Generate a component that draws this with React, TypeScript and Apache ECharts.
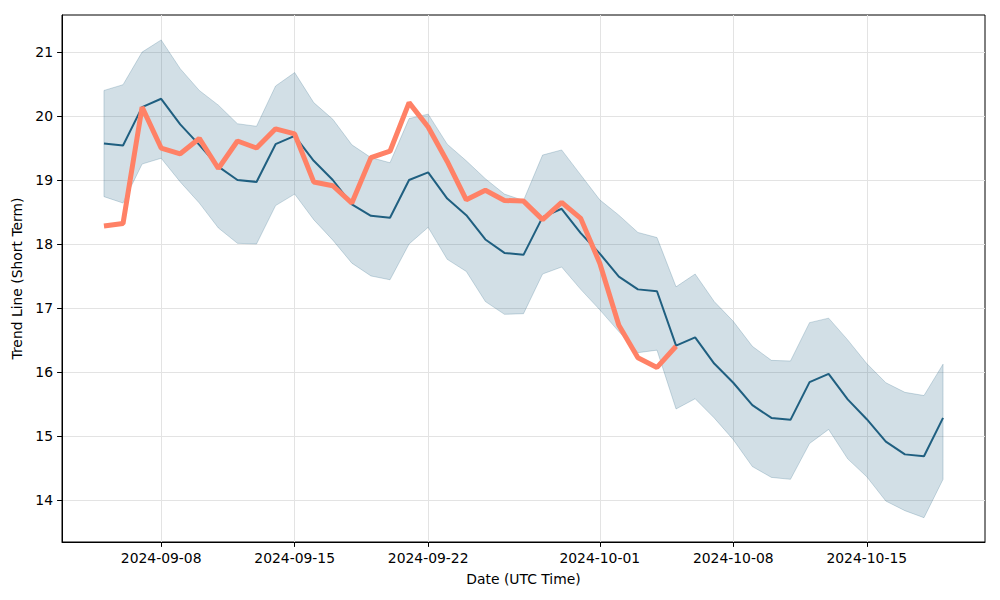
import React, { useEffect, useRef } from "react";
import * as echarts from "echarts";

const startDate = "2024-09-05";
const trend = [19.57, 19.54, 20.14, 20.27, 19.87, 19.55, 19.21, 19.0, 18.97, 19.56, 19.69, 19.3, 19.0, 18.62, 18.44, 18.41, 19.0, 19.12, 18.71, 18.45, 18.07, 17.86, 17.83, 18.42, 18.55, 18.17, 17.85, 17.49, 17.29, 17.26, 16.41, 16.54, 16.13, 15.83, 15.48, 15.28, 15.25, 15.84, 15.97, 15.57, 15.26, 14.91, 14.71, 14.68, 15.28];
const upper = [20.4, 20.49, 21.0, 21.19, 20.74, 20.4, 20.17, 19.88, 19.84, 20.47, 20.68, 20.21, 19.95, 19.55, 19.35, 19.27, 19.96, 20.03, 19.56, 19.3, 19.02, 18.78, 18.68, 19.39, 19.47, 19.08, 18.69, 18.45, 18.18, 18.1, 17.33, 17.53, 17.1, 16.79, 16.4, 16.18, 16.17, 16.77, 16.84, 16.5, 16.13, 15.83, 15.68, 15.63, 16.12];
const lower = [18.74, 18.64, 19.25, 19.34, 18.97, 18.64, 18.25, 18.01, 18.0, 18.6, 18.78, 18.38, 18.06, 17.7, 17.5, 17.44, 18.0, 18.26, 17.76, 17.57, 17.1, 16.9, 16.91, 17.53, 17.64, 17.29, 16.97, 16.63, 16.3, 16.34, 15.42, 15.58, 15.28, 14.94, 14.52, 14.35, 14.32, 14.88, 15.1, 14.64, 14.36, 13.98, 13.83, 13.72, 14.32];
const price = [18.28, 18.32, 20.14, 19.5, 19.41, 19.65, 19.18, 19.61, 19.5, 19.8, 19.72, 18.97, 18.91, 18.64, 19.35, 19.45, 20.21, 19.83, 19.29, 18.69, 18.84, 18.68, 18.67, 18.38, 18.65, 18.4, 17.7, 16.73, 16.22, 16.07, 16.4];
const xTickDates = ["2024-09-08", "2024-09-15", "2024-09-22", "2024-10-01", "2024-10-08", "2024-10-15"];
const yTicks = [14, 15, 16, 17, 18, 19, 20, 21];

const DAY = 86400000;
const toTs = (s: string) => {
  const [y, m, d] = s.split("-").map(Number);
  return Date.UTC(y, m - 1, d);
};
const t0 = toTs(startDate);
const dates = trend.map((_, i) => t0 + i * DAY);
const pad = (n: number) => (n < 10 ? "0" + n : "" + n);
const fmt = (v: number) => {
  const d = new Date(v);
  return `${d.getUTCFullYear()}-${pad(d.getUTCMonth() + 1)}-${pad(d.getUTCDate())}`;
};

export default function App() {
  const ref = useRef<HTMLDivElement>(null);
  useEffect(() => {
    if (!ref.current) return;
    const chart = echarts.init(ref.current, undefined, { renderer: "svg" });
    const span = dates[dates.length - 1] - dates[0];
    const xMin = dates[0] - span * 0.05;
    const xMax = dates[dates.length - 1] + span * 0.05;
    const font = "DejaVu Sans";
    const gridColor = "#e3e3e3";
    const bandColor = "rgba(31,95,128,0.2)";
    const edgeColor = "rgba(31,95,128,0.22)";
    const xTicks = xTickDates.map(toTs);
    chart.setOption({
      animation: false,
      backgroundColor: "#fff",
      grid: {
        left: 62,
        right: 15,
        top: 15,
        bottom: 58,
        show: true,
        borderColor: "#000",
        borderWidth: 1,
        containLabel: false,
      },
      xAxis: {
        type: "value",
        min: xMin,
        max: xMax,
        scale: true,
        name: "Date (UTC Time)",
        nameLocation: "middle",
        nameGap: 30,
        nameTextStyle: { fontFamily: font, fontSize: 13.9, color: "#000" },
        axisLine: { show: true, lineStyle: { color: "#000", width: 1 } },
        axisTick: {
          show: true,
          length: 4.9,
          lineStyle: { color: "#000", width: 1 },
          customValues: xTicks,
        },
        axisLabel: {
          customValues: xTicks,
          formatter: (v: number) => fmt(v),
          fontFamily: font,
          fontSize: 13.9,
          color: "#000",
          margin: 9,
          hideOverlap: false,
        },
        splitLine: { show: true, lineStyle: { color: gridColor, width: 1 } },
      },
      yAxis: {
        type: "value",
        min: 13.34,
        max: 21.58,
        name: "Trend Line (Short Term)",
        nameLocation: "middle",
        nameGap: 30,
        nameRotate: 90,
        nameTextStyle: { fontFamily: font, fontSize: 13.9, color: "#000" },
        axisLine: { show: true, lineStyle: { color: "#000", width: 1 } },
        axisTick: {
          show: true,
          length: 4.9,
          lineStyle: { color: "#000", width: 1 },
          customValues: yTicks,
        },
        axisLabel: {
          customValues: yTicks,
          fontFamily: font,
          fontSize: 13.9,
          color: "#000",
          margin: 9,
        },
        splitLine: { show: true, lineStyle: { color: gridColor, width: 1 } },
      },
      series: [
        {
          name: "band",
          type: "custom",
          silent: true,
          z: 1,
          data: dates.map((d, i) => [d, lower[i], upper[i]]),
          encode: { x: 0, y: [1, 2] },
          renderItem: (params: any, api: any) => {
            if (params.dataIndex !== 0) return null;
            const top = dates.map((d, i) => api.coord([d, upper[i]]));
            const bot = dates.map((d, i) => api.coord([d, lower[i]])).reverse();
            return {
              type: "group",
              children: [
                {
                  type: "polygon",
                  shape: { points: top.concat(bot) },
                  style: { fill: bandColor, stroke: edgeColor, lineWidth: 1 },
                },
              ],
            };
          },
        },
        {
          name: "trend",
          type: "line",
          symbol: "none",
          data: dates.map((d, i) => [d, trend[i]]),
          lineStyle: { color: "#1f5f80", width: 2 },
          z: 3,
        },
        {
          name: "price",
          type: "line",
          symbol: "none",
          data: price.map((v, i) => [dates[i], v]),
          lineStyle: { color: "#ff8166", width: 5 },
          z: 4,
        },
      ],
    });
    return () => chart.dispose();
  }, []);
  return <div ref={ref} style={{ width: 1000, height: 600, position: "absolute", left: 0, top: 0 }} />;
}
